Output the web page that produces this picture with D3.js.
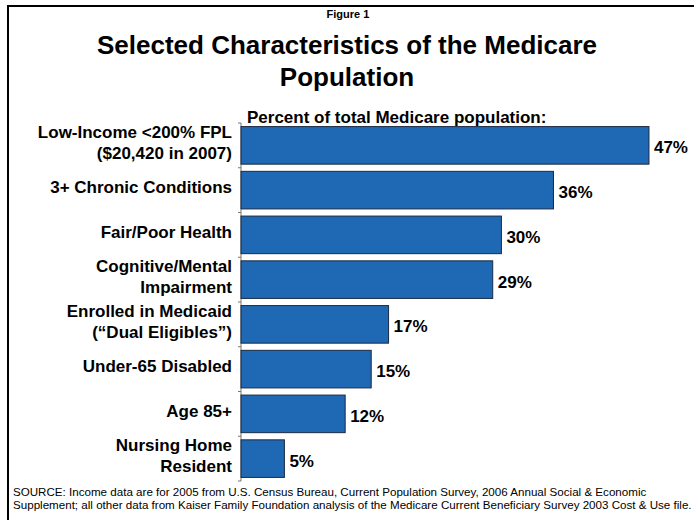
<!DOCTYPE html>
<html>
<head>
<meta charset="utf-8">
<script src="https://cdn.jsdelivr.net/npm/d3@7"></script>
<style>
  body { margin: 0; background: #fff; }
  svg { display: block; font-family: "Liberation Sans", Arial, sans-serif; }
  .cat { font-size: 17px; font-weight: bold; fill: #000; }
  .val { font-size: 17px; font-weight: bold; fill: #000; }
  .bar { fill: #1f68b4; stroke: #1a2a44; stroke-width: 1; }
  .axis path, .axis line { stroke: #777; }
</style>
</head>
<body>
<svg width="694" height="520"></svg>
<script>
const categories = [
  ['Low-Income <200% FPL', '($20,420 in 2007)'],
  ['3+ Chronic Conditions'],
  ['Fair/Poor Health'],
  ['Cognitive/Mental', 'Impairment'],
  ['Enrolled in Medicaid', '(\u201cDual Eligibles\u201d)'],
  ['Under-65 Disabled'],
  ['Age 85+'],
  ['Nursing Home', 'Resident']
]
const values = [47, 36, 30, 29, 17, 15, 12, 5]

const titleLines = ['Selected Characteristics of the Medicare', 'Population']
const sourceLines = [
  'SOURCE: Income data are for 2005 from U.S. Census Bureau, Current Population Survey, 2006 Annual Social & Economic',
  'Supplement; all other data from Kaiser Family Foundation analysis of the Medicare Current Beneficiary Survey 2003 Cost & Use file.'
]

const svg = d3.select('svg')

// frame, runs off the right and bottom edge
svg.append('rect')
  .attr('x', 8).attr('y', 6)
  .attr('width', 720).attr('height', 560)
  .attr('fill', 'none').attr('stroke', '#000').attr('stroke-width', 2)

svg.append('text')
  .attr('x', 348).attr('y', 18)
  .attr('text-anchor', 'middle')
  .style('font-size', '11px').style('font-weight', 'bold')
  .text('Figure 1')

svg.selectAll('text.title')
  .data(titleLines)
  .enter()
  .append('text')
  .attr('class', 'title')
  .attr('x', 347)
  .attr('y', (d, i) => 54 + i * 32)
  .attr('text-anchor', 'middle')
  .style('font-size', '26px').style('font-weight', 'bold')
  .text(d => d)

svg.append('text')
  .attr('x', 247).attr('y', 123)
  .style('font-size', '17px').style('font-weight', 'bold')
  .text('Percent of total Medicare population:')

const y = d3.scaleBand()
  .domain(d3.range(values.length))
  .range([123, 481])
  .paddingInner(0.16)
  .paddingOuter(0.08)

const x = d3.scaleLinear().domain([0, 50]).range([241, 675])

// axis line with ticks at band edges
const edges = d3.range(values.length + 1).map(i => 123 + i * y.step())
const axisG = svg.append('g').attr('class', 'axis')
axisG.append('line')
  .attr('x1', x(0)).attr('x2', x(0))
  .attr('y1', edges[0]).attr('y2', edges[edges.length - 1])
axisG.selectAll('line.tick')
  .data(edges)
  .enter()
  .append('line')
  .attr('class', 'tick')
  .attr('x1', x(0) - 3).attr('x2', x(0))
  .attr('y1', d => d).attr('y2', d => d)

const rows = svg.selectAll('g.row')
  .data(values)
  .enter()
  .append('g')
  .attr('class', 'row')

rows.append('rect')
  .attr('class', 'bar')
  .attr('x', x(0))
  .attr('y', (d, i) => y(i))
  .attr('width', d => x(d) - x(0))
  .attr('height', y.bandwidth())

rows.append('text')
  .attr('class', 'val')
  .attr('x', d => x(d) + 5)
  .attr('y', (d, i) => y(i) + y.bandwidth() / 2 + 8)
  .text(d => d + '%')

rows.each(function (d, i) {
  const lines = categories[i]
  const cy = y(i) + y.bandwidth() / 2 - 3
  d3.select(this).selectAll('text.cat')
    .data(lines)
    .enter()
    .append('text')
    .attr('class', 'cat')
    .attr('x', 232)
    .attr('y', (t, j) => cy + 6 + (j - (lines.length - 1) / 2) * 21)
    .attr('text-anchor', 'end')
    .text(t => t)
})

svg.selectAll('text.src')
  .data(sourceLines)
  .enter()
  .append('text')
  .attr('class', 'src')
  .attr('x', 13)
  .attr('y', (d, i) => 496 + i * 13)
  .style('font-size', '11.6px')
  .text(d => d)
</script>
</body>
</html>
